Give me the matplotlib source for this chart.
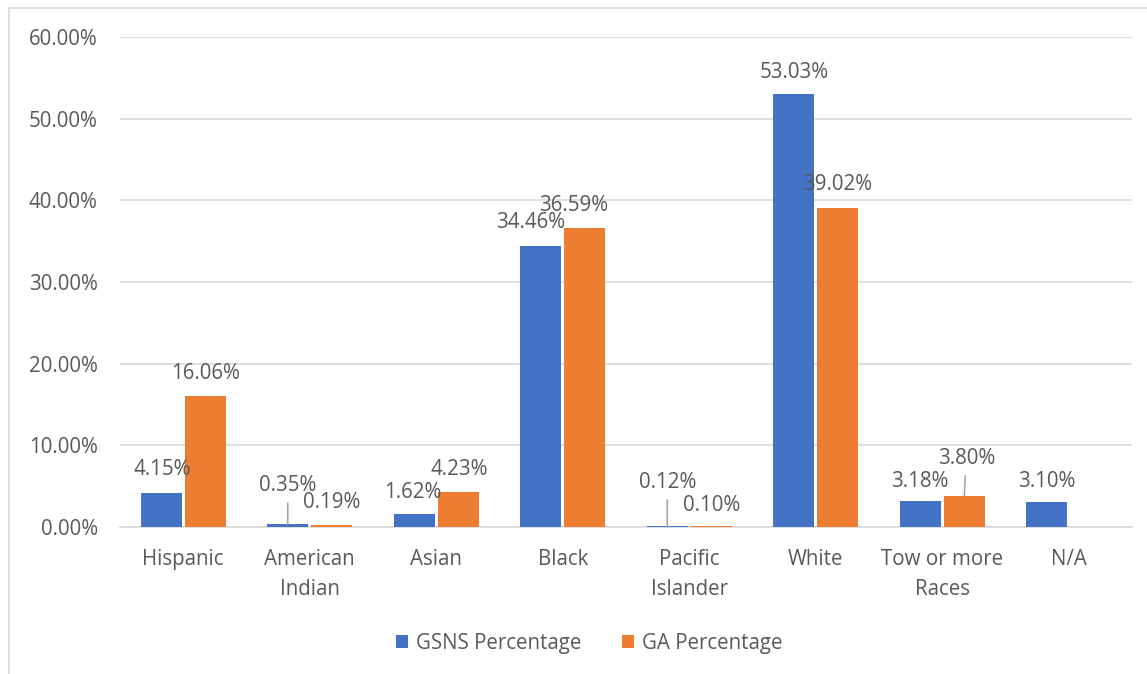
import matplotlib.pyplot as plt
import numpy as np
from matplotlib.patches import Rectangle

# Chart data (percent)
categories = ["Hispanic", "American\nIndian", "Asian", "Black", "Pacific\nIslander",
              "White", "Tow or more\nRaces", "N/A"]
gsns_pct = [4.15, 0.35, 1.62, 34.46, 0.12, 53.03, 3.18, 3.10]
ga_pct = [16.06, 0.19, 4.23, 36.59, 0.10, 39.02, 3.80, None]
series_names = ["GSNS Percentage", "GA Percentage"]

# Label offsets from the bar top, in pixels (dx, dy to baseline; negative = up), leader-line flags
gsns_offsets = [(1, -18), (0, -33), (-1, -16), (-10, -18), (0, -38), (0, -16), (0, -14), (0, -15)]
ga_offsets = [(0, -17), (0, -17), (1, -17), (-11, -17), (0, -15), (0, -18), (2, -32), (0, 0)]
gsns_leader = [False, True, False, False, True, False, False, False]
ga_leader = [False, False, False, False, False, False, True, False]

blue = "#4472C4"
orange = "#ED7D31"
text_col = "#595959"
grid_col = "#D9D9D9"

plt.rcParams['font.family'] = ['Open Sans', 'DejaVu Sans']
fs = 14.8

fig = plt.figure(figsize=(11.47, 6.74), dpi=100)
ax = fig.add_axes([120 / 1147, 1 - 527 / 674, 1012 / 1147, 490 / 674])

# outer chart border
fig.patches.append(Rectangle((9 / 1147, -0.1), 1.2, 1 - 8 / 674 + 0.1, transform=fig.transFigure,
                             fill=False, edgecolor=grid_col, linewidth=1.2))

x = np.arange(len(categories))
w = 0.324
off = 0.174

gsns_vals = np.array(gsns_pct, dtype=float)
ga_vals = np.array([np.nan if v is None else v for v in ga_pct], dtype=float)

ax.bar(x - off, gsns_vals, w, color=blue, label=series_names[0], zorder=3)
ax.bar(x + off, ga_vals, w, color=orange, label=series_names[1], zorder=3)


def label_bars(xs, vals, offsets, leaders):
    for xi, v, (dx, dy), lead in zip(xs, vals, offsets, leaders):
        if np.isnan(v):
            continue
        kw = {}
        if lead:
            kw['arrowprops'] = dict(arrowstyle='-', color='#A6A6A6', lw=1.2,
                                    shrinkA=3, shrinkB=0)
        ax.annotate(f"{v:.2f}%", xy=(xi, 0 if lead and v < 0.2 else v),
                    xytext=(dx * 0.72, -dy * 0.72 + (0 if not (lead and v < 0.2) else v * 8.17 * 0.72)),
                    textcoords='offset points', ha='center', va='baseline',
                    fontsize=fs, color=text_col, **kw)


label_bars(x - off, gsns_vals, gsns_offsets, gsns_leader)
label_bars(x + off, ga_vals, ga_offsets, ga_leader)

ax.set_xlim(-0.5, len(categories) - 0.5)
ax.set_ylim(0, 60)
ax.set_yticks(np.arange(0, 61, 10))
ax.set_yticklabels([f"{t:.2f}%" for t in np.arange(0, 61, 10)])
ax.set_xticks(x)
ax.set_xticklabels(categories, linespacing=1.55)
ax.tick_params(axis='both', length=0, labelsize=fs, colors=text_col)
ax.tick_params(axis='y', pad=16)
ax.tick_params(axis='x', pad=16)
ax.grid(axis='y', color=grid_col, linewidth=1.2, zorder=0)
for s in ['top', 'right', 'left']:
    ax.spines[s].set_visible(False)
ax.spines['bottom'].set_color(grid_col)
ax.spines['bottom'].set_linewidth(1.2)

fig.legend(loc='center', bbox_to_anchor=(589 / 1147, 1 - 643 / 674), ncol=2, frameon=False,
           fontsize=fs, labelcolor=text_col, handlelength=0.6, handleheight=0.6,
           handletextpad=0.35, columnspacing=2.0)

fig.savefig("out.png", dpi=100)
